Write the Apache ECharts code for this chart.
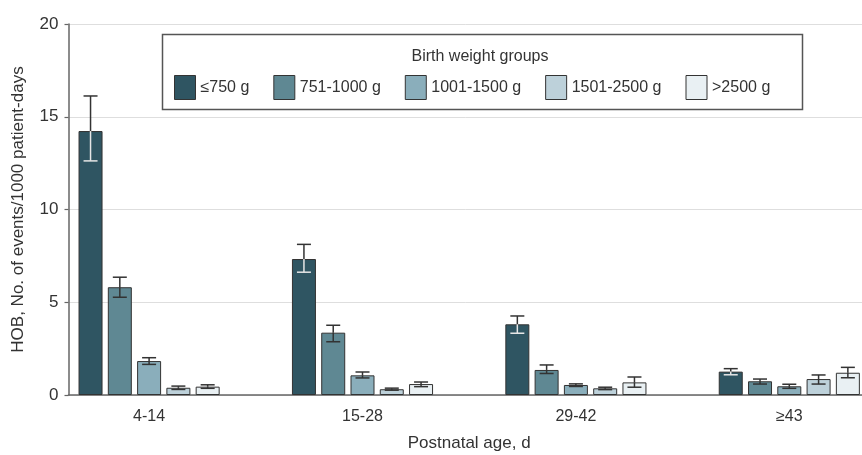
<!DOCTYPE html>
<html>
<head>
<meta charset="utf-8">
<script src="https://cdn.jsdelivr.net/npm/echarts@6/dist/echarts.min.js"></script>
<style>html,body{margin:0;padding:0;background:#fff}#c{width:862px;height:455px}</style>
</head>
<body>
<div id="c"></div>
<script>
var categories = ['4-14', '15-28', '29-42', '≥43'];
var seriesNames = ['≤750 g', '751-1000 g', '1001-1500 g', '1501-2500 g', '>2500 g'];
var rate750 = [14.23, 7.33, 3.81, 1.26];
var rate1000 = [5.81, 3.36, 1.35, 0.74];
var rate1500 = [1.83, 1.06, 0.54, 0.47];
var rate2500 = [0.39, 0.31, 0.36, 0.86];
var rateOver = [0.45, 0.59, 0.68, 1.20];
var low750 = [12.62, 6.62, 3.33, 1.09];
var high750 = [16.12, 8.12, 4.26, 1.42];
var low1000 = [5.27, 2.87, 1.16, 0.59];
var high1000 = [6.35, 3.76, 1.62, 0.86];
var low1500 = [1.65, 0.92, 0.46, 0.36];
var high1500 = [2.01, 1.24, 0.60, 0.58];
var low2500 = [0.30, 0.26, 0.29, 0.59];
var high2500 = [0.48, 0.37, 0.42, 1.08];
var lowOver = [0.36, 0.45, 0.42, 0.93];
var highOver = [0.55, 0.70, 0.97, 1.49];
var yTicks = [0, 5, 10, 15, 20];

var values = [rate750, rate1000, rate1500, rate2500, rateOver];
var lows = [low750, low1000, low1500, low2500, lowOver];
var highs = [high750, high1000, high1500, high2500, highOver];
var colors = ['#2f5562', '#5f8893', '#8aaebb', '#bdd1da', '#e9f0f3'];
var FONT = "'Liberation Sans Narrow', 'Liberation Sans', sans-serif";
var BAR_W = 24, BAR_GAP = 0.22;
var spacing = BAR_W * (1 + BAR_GAP);

var series = [];
values.forEach(function (v, s) {
  series.push({
    name: seriesNames[s], type: 'bar', xAxisIndex: 0, yAxisIndex: 0,
    data: v, barWidth: BAR_W, barGap: (BAR_GAP * 100) + '%',
    itemStyle: { color: colors[s], borderColor: '#333', borderWidth: 1 },
    z: 2
  });
});
values.forEach(function (v, s) {
  var data = v.map(function (val, i) { return [i, lows[s][i], highs[s][i], val]; });
  series.push({
    name: 'err' + s, type: 'custom', xAxisIndex: 0, yAxisIndex: 0, z: 5,
    data: data, silent: true,
    renderItem: function (params, api) {
      var i = api.value(0);
      var pHi = api.coord([i, api.value(2)]);
      var pLo = api.coord([i, api.value(1)]);
      var pV = api.coord([i, api.value(3)]);
      var x = pHi[0] + (s - 2) * spacing;
      var cw = 7;
      var dark = '#333', light = '#e6e6e6';
      var lowColor = s === 0 ? light : dark;
      var st = function (c) { return { stroke: c, lineWidth: 1.5 }; };
      return { type: 'group', children: [
        { type: 'line', shape: { x1: x, y1: pHi[1], x2: x, y2: pV[1] }, style: st(dark) },
        { type: 'line', shape: { x1: x, y1: pV[1], x2: x, y2: pLo[1] }, style: st(lowColor) },
        { type: 'line', shape: { x1: x - cw, y1: pHi[1], x2: x + cw, y2: pHi[1] }, style: st(dark) },
        { type: 'line', shape: { x1: x - cw, y1: pLo[1], x2: x + cw, y2: pLo[1] }, style: st(lowColor) }
      ]};
    }
  });
});

var chart = echarts.init(document.getElementById('c'), null, { renderer: 'canvas' });
chart.setOption({
  animation: false,
  textStyle: { fontFamily: FONT },
  grid: [
    { left: 42.4, width: 853.6, top: 24, height: 371, outerBoundsMode: 'none', containLabel: false },
    { left: 68.5, right: 0, top: 24, height: 371, outerBoundsMode: 'none', containLabel: false }
  ],
  xAxis: [
    { type: 'category', gridIndex: 0, data: categories,
      axisLine: { show: false }, axisTick: { show: false },
      axisLabel: { color: '#333', fontSize: 16, fontFamily: FONT, margin: 14 },
      name: 'Postnatal age, d', nameLocation: 'middle', nameGap: 40,
      nameTextStyle: { color: '#333', fontSize: 17, fontFamily: FONT } },
    { type: 'value', gridIndex: 1, min: 0, max: 1,
      axisLine: { show: true, lineStyle: { color: '#666', width: 1.5 } },
      axisTick: { show: false }, axisLabel: { show: false }, splitLine: { show: false } }
  ],
  yAxis: [
    { type: 'value', gridIndex: 0, min: 0, max: 20, interval: 5, show: false },
    { type: 'value', gridIndex: 1, min: yTicks[0], max: yTicks[yTicks.length - 1], interval: 5,
      axisLine: { show: true, lineStyle: { color: '#666', width: 1.5 } },
      axisTick: { show: true, length: 4, lineStyle: { color: '#666', width: 1.2 } },
      axisLabel: { color: '#333', fontSize: 17, fontFamily: FONT, margin: 10 },
      splitLine: { show: true, lineStyle: { color: '#dedede', width: 1 } },
      name: 'HOB, No. of events/1000 patient-days', nameLocation: 'middle', nameGap: 42,
      nameTextStyle: { color: '#333', fontSize: 17, fontFamily: FONT } }
  ],
  legend: {
    data: seriesNames, left: 169, top: 70, itemWidth: 21, itemHeight: 24, itemGap: 24,
    icon: 'rect',
    itemStyle: { borderColor: '#333', borderWidth: 1 },
    textStyle: { color: '#333', fontSize: 16, fontFamily: FONT }
  },
  graphic: [
    { type: 'rect', left: 160, top: 32, z: 100, silent: true,
      shape: { width: 640, height: 75 },
      style: { fill: 'none', stroke: '#555', lineWidth: 1.5 } },
    { type: 'text', x: 480, y: 57, z: 100, silent: true,
      style: { text: 'Birth weight groups', textAlign: 'center', textVerticalAlign: 'middle',
               fill: '#333', font: '16px ' + FONT } }
  ],
  series: series
});
</script>
</body>
</html>
